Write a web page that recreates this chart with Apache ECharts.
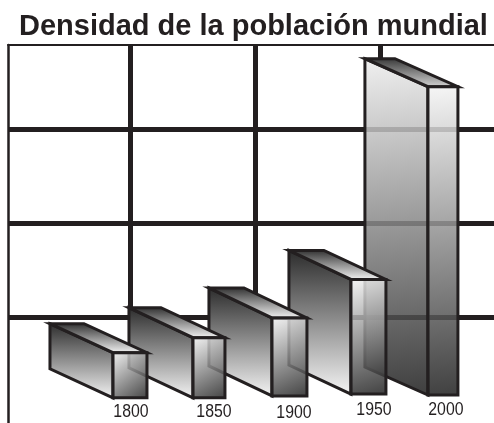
<!DOCTYPE html>
<html><head><meta charset="utf-8">
<script src="https://cdn.jsdelivr.net/npm/echarts@6/dist/echarts.min.js"></script>
<style>html,body{margin:0;padding:0;background:#fff}#c{width:494px;height:423px}</style>
</head><body><div id="c"></div>
<script>
const chartTitle = 'Densidad de la población mundial';
const years = [1800, 1850, 1900, 1950, 2000];
const density = [6.2, 7.8, 9.9, 14.0, 34.5];
const baseLevel = [1.4, 1.4, 1.6, 1.8, 1.7];

// drawing style (pixels), per bar
const faceWidth = [34, 32, 35, 35, 30];
const depthX = [63, 64, 63, 62, 63];
const depthY = [29, 30, 30, 29, 28];
const barNudge = [0, 0.5, 2.5, 3, -1];
const labelNudgeX = [1, 5.5, 7, 8.5, 2];
const labelNudgeY = [1, 1, 2, -1, -1];
const ink = '#231f20';

const chart = echarts.init(document.getElementById('c'), null, {renderer: 'canvas'});
const G = (x0, y0, x1, y1, a, b) => new echarts.graphic.LinearGradient(x0, y0, x1, y1, [{offset: 0, color: a}, {offset: 1, color: b}]);

function barGeometry(api) {
  const i = api.value(3);
  const w = faceWidth[i], dx = depthX[i], dy = depthY[i];
  const base = api.coord([api.value(0), 0]);
  const cx = base[0] + barNudge[i];
  const yTop = api.coord([api.value(0), api.value(2)])[1];
  const yBot = api.coord([api.value(0), api.value(1)])[1];
  const l = cx - w / 2, r = cx + w / 2;
  return {i, dx, dy, base, l, r, yTop, yBot,
    sidePts: [[l - dx, yTop - dy], [l, yTop], [l, yBot], [l - dx, yBot - dy]],
    topPts: [[l - dx, yTop - dy], [r - dx, yTop - dy], [r, yTop], [l, yTop]],
    frontPts: [[l, yTop], [r, yTop], [r, yBot], [l, yBot]]};
}

// white backing: hides the vertical rules behind every bar, under the horizontal rules
function renderBacking(params, api) {
  const g = barGeometry(api);
  const fill = {fill: '#fff', stroke: '#fff', lineWidth: 1};
  return {type: 'group', children: [
    {type: 'polygon', shape: {points: g.sidePts}, style: fill},
    {type: 'polygon', shape: {points: g.frontPts}, style: fill}
  ]};
}

function renderBar(params, api) {
  const g = barGeometry(api);
  const last = g.i === years.length - 1;
  const stroke = {stroke: ink, lineWidth: 3, lineJoin: 'miter'};
  const poly = (pts, fill) => ({type: 'polygon', shape: {points: pts}, style: Object.assign({fill}, stroke)});
  const side = poly(g.sidePts,
    last ? G(0, 0, 0.5, 1, 'rgba(238,238,238,0.85)', 'rgba(30,30,30,0.85)') : G(0, 0, 0, 1, '#2a2a2a', '#f6f6f6'));
  const top = poly(g.topPts,
    last ? G(0, 0, 0, 1, '#333333', '#d8d8d8') : G(0, 0, 0, 1, '#2a2a2a', '#fafafa'));
  const front = poly(g.frontPts,
    G(0, 0, 1, 1, 'rgba(245,245,245,0.85)', 'rgba(30,30,30,0.85)'));
  const label = {type: 'text', x: g.base[0] + labelNudgeX[g.i], y: g.base[1] + labelNudgeY[g.i], scaleX: 0.88,
    style: {text: String(api.value(0)), x: 0, y: 0,
    align: 'center', verticalAlign: 'middle', fill: ink,
    font: '18px "Liberation Sans", sans-serif'}};
  return {type: 'group', children: [side, top, front, label]};
}

const barData = years.map((y, i) => [y, baseLevel[i], density[i], i]).reverse();

chart.setOption({
  animation: false,
  backgroundColor: '#fff',
  title: {text: chartTitle, left: 19, top: 12, padding: 0,
    textStyle: {fontFamily: '"Liberation Sans", Arial, sans-serif', fontWeight: 'bold', fontSize: 29, color: ink}},
  grid: [
    {left: 8, top: 45, width: 486, height: 366},
    {left: 5, top: 45, width: 489, height: 295},
    {left: 8, top: 45, width: 486, height: 378}
  ],
  xAxis: [
    {gridIndex: 0, type: 'value', position: 'top', min: 1722.3, max: 2031.9, z: 0,
     axisLine: {show: true, onZero: false, lineStyle: {color: ink, width: 2}},
     axisTick: {show: false}, axisLabel: {show: false}, splitLine: {show: false}},
    {gridIndex: 1, type: 'value', min: 0, max: 3.912, interval: 1, z: 0,
     axisLine: {show: false}, axisTick: {show: false}, axisLabel: {show: false},
     splitLine: {show: true, showMinLine: false, showMaxLine: false, lineStyle: {color: ink, width: 5}}},
    {gridIndex: 2, type: 'value', min: 0, max: 1, show: false}
  ],
  yAxis: [
    {gridIndex: 0, type: 'value', min: 0, max: 38.94, interval: 10, z: 2,
     axisLine: {show: false}, axisTick: {show: false}, axisLabel: {show: false},
     splitLine: {show: true, showMinLine: false, showMaxLine: false, lineStyle: {color: ink, width: 5}}},
    {gridIndex: 1, type: 'value', min: 0, max: 1, show: false},
    {gridIndex: 2, type: 'value', min: 0, max: 1, z: 0,
     axisLine: {show: true, onZero: false, lineStyle: {color: ink, width: 2.5}},
     axisTick: {show: false}, axisLabel: {show: false}, splitLine: {show: false}}
  ],
  series: [
    {type: 'custom', coordinateSystem: 'cartesian2d', xAxisIndex: 0, yAxisIndex: 0, z: 1,
     clip: false, renderItem: renderBacking, data: barData, silent: true},
    {type: 'custom', coordinateSystem: 'cartesian2d', xAxisIndex: 0, yAxisIndex: 0, z: 3,
     clip: false, renderItem: renderBar, data: barData, silent: true}
  ]
});
</script></body></html>
